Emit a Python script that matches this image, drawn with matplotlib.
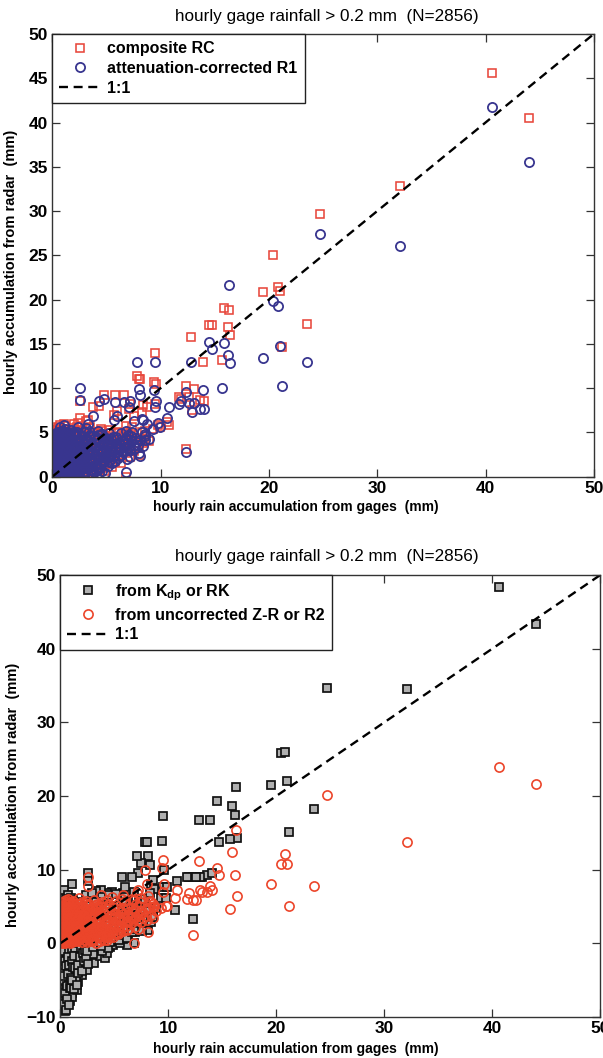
import matplotlib.pyplot as plt

plt.rcParams['font.family'] = ['Liberation Sans', 'DejaVu Sans']
plt.rcParams['font.weight'] = 'bold'

# hourly gauge totals (mm) and the radar estimates for the same hours
gage = [
    40.6, 44.0, 32.1, 24.7, 23.5, 20.4, 20.8, 21.0, 21.2, 19.5,
    16.3, 15.9, 16.2, 16.4, 15.7, 14.5, 14.7, 12.8, 13.9, 12.3,
    13.1, 13.6, 12.3, 11.9, 10.8, 9.5, 9.4, 9.6, 9.5, 7.8,
    8.0, 8.1, 7.2, 8.4, 8.7, 9.9, 9.3, 8.6, 6.6, 5.8,
    4.8, 4.3, 3.8, 2.6, 2.6, 6.8, 8.1, 7.2, 6.2, 5.3,
    10.6, 9.8, 11.7, 14.0, 12.9, 12.6, 8.6, 7.5, 7.1, 8.3,
    5.7, 6.0, 1.06, 0.3, 0.7, 3.3,
    0.2, 0.2, 0.2, 0.2, 0.3, 0.3, 0.3, 0.3, 0.4, 0.4,
    0.4, 0.4, 0.5, 0.5, 0.5, 0.5, 0.6, 0.6, 0.6, 0.6,
    0.7, 0.7, 0.7, 0.7, 0.8, 0.8, 0.8, 0.8, 0.9, 0.9,
    0.9, 0.9, 1.0, 1.0, 1.0, 1.0, 1.1, 1.1, 1.1, 1.2,
    1.2, 1.2, 1.2, 1.3, 1.3, 1.3, 1.4, 1.4, 1.4, 1.5,
    1.5, 1.5, 1.6, 1.6, 1.6, 1.7, 1.7, 1.7, 1.8, 1.8,
    1.9, 1.9, 2.0, 2.0, 2.0, 2.1, 2.1, 2.2, 2.2, 2.3,
    2.3, 2.4, 2.4, 2.5, 2.5, 2.6, 2.6, 2.7, 2.7, 2.8,
    2.8, 2.9, 2.9, 3.0, 3.0, 3.1, 3.1, 3.2, 3.3, 3.3,
    3.4, 3.5, 3.5, 3.6, 3.7, 3.7, 3.8, 3.9, 3.9, 4.0,
    4.0, 4.1, 4.2, 4.2, 4.3, 4.3, 4.4, 4.5, 4.5, 4.6,
    4.7, 4.8, 4.9, 4.9, 5.0, 5.1, 5.1, 5.2, 5.3, 5.4,
    5.5, 5.6, 5.7, 5.8, 5.9, 6.0, 6.1, 6.2, 6.3, 6.3,
    6.5, 6.6, 6.8, 6.9, 7.0, 7.3, 7.5, 7.8, 8.0, 8.3,
    0.1, 0.1, 0.1, 0.15, 0.15, 0.15, 0.25, 0.25, 0.25, 0.35,
    0.35, 0.35, 0.45, 0.45, 0.45, 0.45, 0.55, 0.55, 0.55, 0.65,
    0.65, 0.65, 0.75, 0.75, 0.75, 0.85, 0.85, 0.85, 0.95, 0.95,
    0.95, 1.05, 1.05, 1.05, 1.15, 1.15, 1.15, 1.25, 1.25, 1.35,
    1.35, 1.35, 1.45, 1.45, 1.55, 1.55, 1.55, 1.65, 1.65, 1.75,
    1.75, 1.75, 1.85, 1.85, 1.95, 1.95, 2.05, 2.05, 2.15, 2.25,
    2.25, 2.35, 2.35, 2.45, 2.45, 2.55, 2.55, 2.65, 2.65, 2.75,
    2.75, 2.85, 2.85, 2.95, 3.05, 3.05, 3.15, 3.15, 3.25, 3.35,
    3.35, 3.45, 3.45, 3.55, 3.65, 3.65, 3.75, 3.85, 3.85, 3.95,
    4.05, 4.05, 4.15, 4.25, 4.25, 4.35, 4.45, 4.45, 4.55, 4.55,
    4.65, 4.75, 4.85, 4.95, 5.05, 5.15, 5.25, 5.35, 5.45, 5.55,
    5.65, 5.85, 6.05, 6.25, 6.45, 6.7, 6.95, 7.15, 7.4, 7.65,
    0.05, 0.05, 0.05, 0.1, 0.1, 0.2, 0.2, 0.3, 0.3, 0.4,
    0.45, 0.5, 0.55, 0.6, 0.65, 0.7, 0.75, 0.8, 0.85, 0.9,
    0.95, 1.0, 1.05, 1.1, 1.2, 1.25, 1.3, 1.4, 1.5, 1.6,
    1.65, 1.8, 1.9, 2.0, 2.1, 2.2, 2.3, 2.4, 2.5, 2.6,
    3.0, 3.4, 3.8, 4.2, 4.6, 5.0, 5.4, 5.8, 6.2, 6.6,
    6.8, 7.0, 7.2, 7.4, 7.6, 7.9, 8.1, 8.4, 8.6, 8.9,
]

# composite RC
rc = [
    45.6, 40.5, 32.8, 29.7, 17.2, 25.0, 21.4, 21.0, 14.6, 20.9,
    18.8, 19.1, 16.9, 16.0, 13.2, 17.1, 17.1, 15.8, 13.0, 10.2,
    9.9, 8.7, 3.1, 8.8, 5.8, 14.0, 10.7, 10.5, 8.2, 11.4,
    11.0, 11.0, 8.2, 8.1, 7.9, 5.6, 5.4, 4.1, 9.2, 9.2,
    9.2, 8.0, 7.9, 8.5, 6.6, 0.0, 2.4, 2.2, 2.3, 2.2,
    6.2, 5.8, 9.0, 8.6, 7.5, 9.0, 5.2, 6.8, 7.6, 7.3,
    7.0, 7.4, 6.0, 5.2, 5.8, 6.4,
    0.3, 1.5, 2.8, 4.1, 0.9, 2.2, 3.4, 5.0, 0.1, 1.3,
    2.6, 4.6, 0.6, 1.9, 3.3, 5.6, 0.2, 1.0, 2.9, 3.9,
    0.5, 1.7, 3.1, 4.4, 0.8, 2.4, 3.7, 5.3, 0.4, 1.4,
    2.7, 4.9, 0.1, 2.0, 3.5, 4.0, 1.1, 2.3, 3.3, 0.7,
    1.8, 4.3, 5.7, 0.3, 2.6, 3.0, 1.2, 2.1, 4.6, 0.5,
    3.2, 5.1, 1.5, 2.7, 3.8, 0.4, 2.3, 4.9, 1.0, 3.1,
    1.9, 4.2, 0.2, 2.8, 5.9, 1.3, 3.6, 0.6, 2.5, 4.5,
    1.6, 3.3, 6.1, 0.8, 2.2, 4.0, 1.1, 2.9, 5.2, 0.3,
    1.9, 3.6, 4.7, 0.7, 2.4, 6.3, 1.4, 3.0, 4.4, 0.9,
    2.1, 5.6, 1.2, 3.4, 0.4, 4.2, 1.8, 5.0, 2.6, 0.8,
    3.7, 1.6, 4.8, 2.9, 0.6, 3.9, 1.5, 5.4, 2.3, 1.0,
    3.5, 1.9, 0.7, 4.6, 2.8, 1.4, 3.7, 5.3, 2.0, 3.2,
    1.1, 4.4, 2.6, 1.7, 3.9, 5.1, 2.4, 3.3, 4.6, 1.6,
    2.9, 4.1, 5.7, 2.7, 3.6, 4.9, 2.9, 4.2, 3.2, 5.1,
    0.6, 2.0, 3.6, 1.0, 2.6, 4.4, 0.5, 1.9, 3.8, 0.8,
    2.3, 4.8, 0.3, 1.6, 3.0, 4.3, 1.2, 2.4, 4.1, 0.5,
    2.0, 3.4, 0.9, 2.6, 4.6, 1.1, 3.0, 4.1, 0.2, 2.1,
    3.9, 0.9, 2.7, 4.5, 1.6, 3.0, 5.0, 1.3, 3.5, 0.6,
    2.2, 3.9, 1.0, 3.1, 0.4, 2.1, 4.1, 1.3, 3.4, 0.8,
    2.6, 4.4, 1.6, 3.6, 0.8, 3.0, 1.7, 4.0, 2.3, 1.0,
    3.1, 0.6, 2.4, 1.4, 4.6, 0.9, 3.1, 1.7, 3.8, 1.1,
    3.3, 2.4, 4.1, 1.3, 3.5, 0.4, 2.5, 4.8, 1.6, 3.2,
    5.0, 1.3, 3.8, 2.4, 1.0, 3.1, 2.1, 0.6, 3.9, 1.6,
    2.6, 4.6, 3.2, 1.2, 4.2, 2.5, 3.4, 0.9, 4.0, 1.7,
    2.6, 4.0, 2.3, 3.3, 4.1, 2.6, 1.5, 4.3, 2.3, 3.6,
    3.0, 4.9, 3.0, 4.0, 3.5, 3.2, 4.5, 3.9, 4.4, 3.5,
    0.2, 1.2, 3.0, 4.7, 0.9, 3.6, 5.3, 2.5, 4.3, 3.2,
    5.3, 0.8, 5.0, 4.2, 5.5, 5.2, 1.9, 1.6, 2.0, 3.4,
    5.1, 1.6, 5.4, 4.4, 2.6, 5.1, 4.0, 5.3, 2.6, 5.0,
    2.0, 4.2, 5.5, 3.4, 5.0, 3.9, 5.6, 4.1, 5.3, 2.4,
    4.5, 5.5, 4.9, 5.0, 5.2, 4.6, 4.9, 4.0, 3.6, 3.2,
    4.6, 5.0, 2.9, 5.6, 3.8, 3.3, 4.4, 3.8, 4.6, 4.0,
]

# attenuation-corrected R1
r1 = [
    41.8, 35.5, 26.0, 27.4, 12.9, 19.8, 19.3, 14.8, 10.2, 13.4,
    21.6, 15.1, 13.7, 12.8, 10.0, 15.2, 14.4, 12.9, 9.8, 9.6,
    8.3, 7.7, 2.8, 8.5, 7.9, 13.0, 9.8, 8.6, 7.9, 12.9,
    9.9, 9.2, 8.6, 6.4, 6.0, 5.6, 5.4, 4.1, 8.4, 8.4,
    8.8, 8.6, 6.9, 10.0, 8.7, 0.5, 2.3, 2.2, 2.3, 2.2,
    6.6, 6.1, 8.2, 7.6, 7.3, 8.3, 4.6, 6.3, 7.9, 6.5,
    6.4, 6.8, 5.8, 4.9, 5.6, 5.9,
    0.2, 1.2, 2.4, 3.7, 0.6, 1.9, 3.1, 4.4, 0.0, 1.0,
    2.7, 4.0, 0.4, 1.6, 3.4, 5.0, 0.3, 2.0, 2.3, 4.7,
    0.1, 1.3, 2.8, 3.5, 0.7, 2.1, 3.9, 4.6, 0.3, 1.7,
    2.6, 4.3, 0.6, 1.4, 3.0, 5.2, 0.2, 2.2, 3.7, 0.9,
    1.9, 4.1, 5.4, 0.4, 2.5, 3.3, 1.1, 1.6, 3.9, 0.2,
    2.9, 4.8, 1.3, 2.2, 4.4, 0.6, 1.9, 5.3, 0.8, 3.5,
    1.4, 3.6, 0.3, 2.4, 4.9, 1.0, 3.2, 0.5, 2.0, 4.2,
    1.2, 2.9, 5.6, 0.4, 1.8, 3.8, 0.9, 2.6, 4.6, 0.1,
    1.6, 3.4, 5.1, 0.6, 2.2, 5.5, 1.3, 3.0, 4.0, 0.2,
    1.9, 4.7, 0.8, 2.7, 0.3, 3.6, 1.5, 4.4, 2.4, 0.6,
    3.3, 1.1, 5.2, 2.0, 0.4, 3.8, 1.6, 4.8, 2.8, 0.7,
    3.0, 1.7, 0.4, 4.2, 2.5, 1.2, 3.6, 4.9, 1.9, 2.9,
    1.5, 4.5, 2.3, 1.8, 3.4, 4.3, 2.1, 3.8, 4.9, 2.4,
    2.8, 3.7, 5.2, 2.0, 3.2, 4.6, 3.6, 3.9, 2.7, 5.0,
    0.5, 1.7, 3.2, 0.8, 2.2, 3.9, 0.4, 1.5, 3.4, 0.7,
    2.0, 4.2, 0.2, 1.3, 2.6, 3.8, 1.0, 2.1, 3.6, 0.4,
    1.6, 3.0, 0.6, 2.4, 4.1, 1.0, 2.7, 3.6, 0.2, 1.9,
    3.4, 0.8, 2.3, 4.0, 1.3, 2.8, 4.5, 1.1, 3.1, 0.6,
    1.9, 3.6, 0.8, 2.8, 0.3, 1.8, 3.7, 1.1, 3.0, 0.7,
    2.4, 4.0, 1.3, 3.1, 0.6, 2.7, 1.4, 3.6, 2.2, 0.9,
    2.8, 0.5, 2.2, 1.3, 4.3, 0.7, 2.8, 1.5, 3.3, 0.9,
    3.0, 2.1, 3.7, 1.0, 3.2, 0.4, 2.3, 4.4, 1.5, 2.7,
    4.6, 1.1, 3.5, 2.1, 0.8, 2.9, 1.9, 0.5, 3.5, 1.3,
    2.3, 4.1, 2.9, 0.9, 4.4, 2.2, 3.1, 1.0, 3.6, 1.8,
    2.2, 3.7, 2.1, 2.9, 3.8, 2.4, 1.7, 3.9, 2.6, 3.3,
    2.9, 4.5, 2.8, 3.1, 4.0, 2.9, 4.1, 3.0, 4.0, 3.2,
    0.1, 1.0, 2.6, 4.2, 2.3, 3.0, 4.8, 2.1, 3.9, 2.9,
    4.8, 0.9, 4.5, 3.8, 5.1, 4.9, 1.6, 1.5, 1.8, 3.1,
    4.6, 1.3, 5.0, 4.0, 2.3, 4.8, 3.7, 4.8, 2.2, 4.7,
    1.7, 4.0, 5.1, 3.0, 4.7, 3.6, 5.0, 3.9, 4.8, 2.1,
    4.2, 5.2, 4.6, 4.7, 4.8, 4.4, 4.3, 3.7, 3.3, 3.3,
    4.4, 4.7, 3.0, 5.1, 4.4, 3.6, 4.1, 3.5, 4.8, 4.3,
]

# from Kdp, RK
rk = [
    48.4, 43.3, 34.5, 34.7, 18.3, 25.8, 26.0, 22.0, 15.1, 21.5,
    21.2, 18.6, 17.4, 14.3, 14.2, 19.3, 13.8, 16.8, 16.7, 9.0,
    9.0, 9.3, 3.3, 9.0, 8.4, 17.3, 13.9, 10.0, 7.7, 13.8,
    13.7, 11.9, 9.6, 8.1, 7.4, 7.7, 6.1, 4.5, 9.0, 6.9,
    7.0, 6.8, 7.2, 9.5, 8.5, 0.0, 1.8, 2.5, -0.2, 1.0,
    4.5, 6.1, 9.0, 9.5, 9.0, 9.0, 8.6, 10.9, 11.9, 10.6,
    9.0, 7.7, 8.0, 7.2, 6.5, 7.1,
    -8.5, -4.0, 0.5, 3.8, -6.6, -2.1, 2.0, 5.5, -9.2, -7.4,
    -3.0, 1.2, -5.4, -1.2, 3.0, 6.0, -8.0, -4.8, -0.5, 4.6,
    -7.0, -3.5, 0.2, 2.6, -6.0, -2.5, 1.8, 5.2, -7.8, -5.0,
    -1.6, 4.0, -4.2, -0.3, 2.9, 6.2, -6.8, -2.8, 0.9, -5.6,
    -1.9, 3.4, 5.9, -3.8, -0.8, 1.5, -4.6, -2.2, 2.3, -3.1,
    0.4, 4.8, -1.4, -5.2, 3.1, -2.6, 0.0, 5.6, -3.3, 1.1,
    -0.6, 2.7, -1.8, -4.3, 4.3, -2.9, 1.6, -1.0, 0.6, 3.6,
    -2.3, 2.2, 6.5, -0.4, -3.6, 4.5, 0.3, 1.3, 5.0, -1.5,
    -0.2, 2.6, 6.8, -1.1, 0.8, 4.9, -2.7, 1.9, 3.5, 0.1,
    -0.9, 5.4, 0.7, 2.4, -1.7, 3.2, 0.5, 6.3, 1.5, -0.7,
    2.8, -2.0, 4.2, 1.0, -1.3, 3.7, 0.4, 6.6, 2.0, -0.5,
    3.3, 1.2, -0.2, 5.1, 2.2, 0.3, 4.0, 6.7, 1.4, 2.9,
    0.1, 4.5, 1.8, 0.6, 3.4, 6.3, 1.3, 2.6, 5.6, 1.0,
    2.0, 3.8, 7.0, 1.5, 3.0, 5.8, 2.3, 6.0, 2.7, 6.8,
    -5.8, -1.5, 2.8, -7.1, -0.8, 4.2, -3.4, 1.0, 3.3, -6.2,
    -2.6, 4.9, -8.8, -4.5, 0.3, 2.4, -6.2, -1.9, 5.1, -3.9,
    -1.3, 3.5, -5.3, -0.9, 4.4, -4.0, 0.6, 3.9, -6.5, -2.0,
    2.1, -7.3, -1.1, 3.7, -3.7, 0.5, 5.1, -2.9, 2.6, -5.9,
    -1.0, 2.4, -4.9, 0.7, -6.3, -1.7, 3.6, -3.9, 1.9, -2.0,
    0.3, 4.0, -2.1, 2.0, -3.4, 1.2, -1.2, 3.3, -0.1, -2.7,
    1.4, -1.6, 0.6, -2.0, 3.9, -0.8, 1.9, 0.0, 3.0, -1.2,
    2.2, 0.9, 3.1, -0.5, 2.9, -1.4, 1.2, 4.1, 0.2, 2.5,
    5.6, -0.2, 3.3, 1.6, -0.3, 2.6, 1.1, -1.0, 4.6, 0.8,
    1.9, 5.0, 2.5, 0.0, 4.7, 1.5, 2.4, -0.6, 3.4, 0.7,
    1.8, 4.2, 1.6, 2.7, 4.6, 1.9, 0.8, 5.0, 1.6, 3.8,
    2.6, 5.5, 2.1, 4.1, 3.2, 2.6, 4.9, 3.9, 4.7, 3.3,
    -6.9, -3.7, -1.0, 0.8, -5.0, -2.9, 4.7, -8.2, -4.4, -6.8,
    -2.4, -9.0, -3.1, -5.8, -7.6, -1.8, -4.1, -8.4, -3.0, -6.1,
    -4.7, -6.1, -2.4, -5.0, -3.2, -6.2, -1.7, -3.4, -5.7, -4.0,
    -3.0, -1.9, -0.7, -3.8, -1.3, -2.4, -0.9, -2.0, -1.1, -2.8,
    -0.5, 0.9, -0.4, 0.6, 0.2, 0.8, 0.5, 1.1, 0.7, 1.6,
    2.5, 1.9, 2.8, 3.5, 1.7, 3.0, 4.4, 2.9, 3.6, 4.8,
]

# uncorrected Z-R, R2
r2 = [
    24.0, 21.6, 13.8, 20.2, 7.8, 10.8, 12.1, 10.8, 5.1, 8.0,
    15.4, 12.4, 9.3, 6.4, 4.6, 10.2, 9.3, 11.2, 7.8, 5.9,
    7.0, 7.0, 1.1, 6.9, 7.3, 11.3, 10.2, 8.1, 7.0, 10.0,
    8.1, 6.4, 7.2, 5.6, 5.0, 5.0, 4.8, 3.4, 6.0, 6.5,
    6.3, 5.9, 6.6, 9.0, 7.8, 0.1, 1.5, 2.0, 1.8, 1.3,
    6.1, 5.0, 6.0, 7.3, 7.3, 5.9, 5.3, 6.2, 6.8, 4.9,
    6.0, 5.8, 5.5, 5.8, 6.0, 5.2,
    0.1, 0.8, 2.2, 3.5, 0.4, 1.6, 3.0, 4.8, 0.0, 1.1,
    2.5, 4.2, 0.2, 1.9, 3.1, 5.9, 0.6, 2.9, 3.8, 5.2,
    0.3, 1.4, 2.6, 4.5, 0.9, 2.1, 3.3, 5.5, 0.1, 1.2,
    2.8, 4.0, 0.5, 1.8, 3.6, 5.0, 0.2, 2.4, 4.3, 0.7,
    1.5, 3.0, 5.7, 0.3, 2.0, 4.7, 1.0, 2.7, 3.9, 0.4,
    3.2, 5.4, 1.3, 2.3, 4.4, 0.5, 3.4, 6.1, 0.9, 2.5,
    1.6, 4.9, 0.2, 2.9, 5.6, 1.1, 3.7, 0.4, 2.2, 4.1,
    1.4, 3.3, 5.8, 0.2, 1.9, 4.6, 0.9, 2.7, 5.3, 0.3,
    1.5, 3.5, 4.8, 0.6, 2.4, 5.9, 1.2, 3.0, 4.4, 0.1,
    1.8, 5.1, 0.9, 2.6, 0.3, 3.8, 1.4, 5.6, 2.1, 0.5,
    3.4, 1.0, 4.6, 1.7, 0.4, 3.0, 1.3, 5.3, 2.3, 0.8,
    3.9, 1.5, 0.9, 4.8, 2.6, 1.2, 3.6, 5.8, 1.9, 3.1,
    1.5, 4.3, 2.2, 1.7, 3.5, 5.4, 2.4, 3.0, 4.8, 1.9,
    2.7, 4.2, 5.9, 2.2, 3.6, 5.1, 2.9, 4.5, 3.2, 5.7,
    0.4, 1.8, 3.3, 0.6, 2.6, 4.1, 0.2, 1.4, 3.9, 0.7,
    2.2, 5.1, 0.3, 1.3, 2.6, 4.4, 0.8, 2.3, 4.6, 0.3,
    1.7, 3.4, 0.6, 2.4, 4.8, 0.7, 2.9, 4.1, 0.3, 2.0,
    3.8, 0.9, 2.5, 4.6, 1.4, 3.1, 5.3, 1.2, 3.5, 0.5,
    2.1, 3.6, 0.8, 2.9, 0.3, 1.9, 3.8, 1.2, 3.1, 0.7,
    2.3, 4.3, 1.4, 3.3, 0.7, 2.6, 1.5, 3.5, 2.6, 0.8,
    3.0, 0.4, 2.4, 1.3, 4.1, 0.6, 3.0, 1.5, 3.7, 1.0,
    3.0, 2.0, 4.0, 1.0, 3.3, 0.3, 2.3, 4.5, 1.5, 2.8,
    4.8, 1.0, 3.4, 2.2, 0.8, 2.9, 1.9, 0.6, 3.7, 1.2,
    2.1, 4.3, 2.8, 0.8, 4.2, 2.0, 2.9, 1.0, 3.6, 1.6,
    2.2, 4.1, 2.0, 3.3, 4.0, 2.2, 1.4, 4.6, 2.4, 3.4,
    3.0, 4.7, 2.9, 3.9, 3.4, 3.1, 4.4, 3.8, 4.0, 3.5,
    0.2, 0.9, 2.8, 4.4, 2.1, 2.9, 5.1, 2.0, 4.0, 3.5,
    5.4, 0.7, 4.9, 4.3, 5.6, 5.3, 1.8, 1.6, 1.7, 3.3,
    4.7, 1.4, 5.3, 4.2, 2.4, 5.0, 3.8, 5.1, 2.4, 4.9,
    1.8, 3.9, 5.4, 3.2, 4.9, 3.9, 5.5, 4.0, 5.2, 2.3,
    4.6, 5.4, 4.9, 5.0, 5.1, 4.5, 5.1, 4.0, 3.8, 3.6,
    4.5, 5.3, 3.2, 5.6, 4.1, 3.7, 4.8, 3.9, 4.9, 4.4,
]

one_to_one = [0, 50]

title = 'hourly gage rainfall > 0.2 mm  (N=2856)'
xlab = 'hourly rain accumulation from gages  (mm)'
ylab = 'hourly accumulation from radar  (mm)'

W, H = 603, 1058


def px(x, y):
    return x / W, 1 - y / H


def dress(ax, ylo, ystep):
    ax.set_xlim(0, 50)
    ax.set_ylim(ylo, 50)
    ax.set_xticks(range(0, 51, 10))
    ax.set_yticks(range(ylo, 51, ystep))
    ax.tick_params(direction='in', top=True, right=True, length=5.5, width=0.9,
                   labelsize=12.5, pad=3, color='#333333')
    for s in ax.spines.values():
        s.set_linewidth(1.0)
        s.set_color('#333333')


def legend(ax, fs):
    leg = ax.legend(loc='upper left', bbox_to_anchor=(0, 1), borderaxespad=0,
                    fancybox=False, framealpha=1, edgecolor='#222222',
                    numpoints=1, handlelength=2.6, handletextpad=0.4,
                    labelspacing=0.3, borderpad=0.45,
                    prop={'size': fs, 'weight': 'bold'})
    leg.get_frame().set_linewidth(1.0)


fig = plt.figure(figsize=(W / 100, H / 100), dpi=100)

# upper panel: composite vs attenuation-corrected
ax1 = fig.add_axes([52.3 / W, 1 - 476.7 / H, 541.5 / W, 442.7 / H])
ax1.plot(gage, rc, 's', ms=6.4, mfc='none', mec='#e8473c', mew=1.15,
         label='composite RC')
ax1.plot(gage, r1, 'o', ms=6.6, mfc='none', mec='#38358f', mew=1.3,
         label='attenuation-corrected R1')
ax1.plot(one_to_one, one_to_one, '--', color='black', lw=1.7,
         dashes=(3.8, 2.4), label='1:1')
dress(ax1, 0, 5)
legend(ax1, 11.5)

# lower panel: Kdp vs uncorrected Z-R
ax2 = fig.add_axes([60.3 / W, 1 - 1017 / H, 540 / W, 442 / H])
ax2.plot(gage, rk, 's', ms=6.4, mfc='#b0b0b0', mec='#111111', mew=1.25,
         label=r'from K$_{\mathregular{dp}}$ or RK')
ax2.plot(gage, r2, 'o', ms=6.6, mfc='none', mec='#ec452a', mew=1.2,
         label='from uncorrected Z-R or R2')
ax2.plot(one_to_one, one_to_one, '--', color='black', lw=1.7,
         dashes=(3.8, 2.4), label='1:1')
dress(ax2, -10, 10)
legend(ax2, 11.5)

for ytitle, yx in ((16, 507), (557, 1049)):
    fig.text(*px(327, ytitle), title, ha='center', va='center',
             fontsize=12.3, fontweight='normal')
    fig.text(*px(296, yx), xlab, ha='center', va='center', fontsize=10)

fig.text(*px(11, 262), ylab, ha='center', va='center', rotation=90, fontsize=10.5)
fig.text(*px(13, 795), ylab, ha='center', va='center', rotation=90, fontsize=10.5)

fig.savefig('out.png', dpi=100)
